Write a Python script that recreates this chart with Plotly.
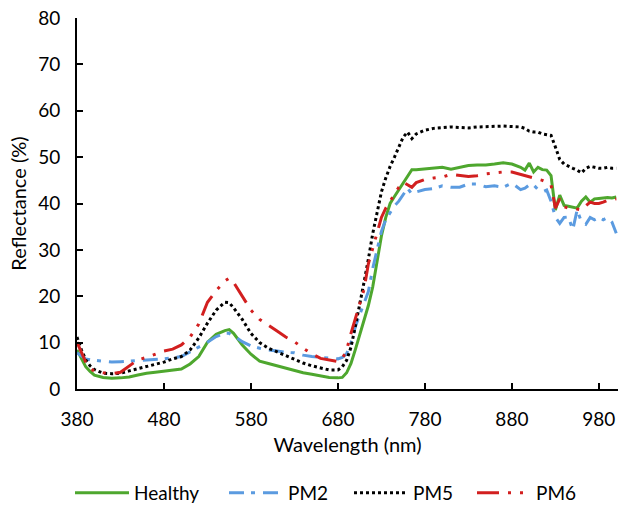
import plotly.graph_objects as go

wavelength = [380, 385, 390, 395, 400, 410, 420, 430, 440, 450, 460, 470, 480, 490, 500,
              510, 520, 530, 540, 550, 555, 560, 570, 580, 590, 600, 610, 620, 630, 640,
              650, 660, 670, 680, 685, 690, 695, 700, 705, 710, 715, 720, 725, 730, 735,
              740, 745, 750, 755, 760, 765, 770, 780, 790, 800, 810, 820, 830, 840, 850,
              860, 870, 880, 890, 895, 900, 905, 910, 915, 920, 925, 930, 935, 940, 945,
              950, 955, 960, 965, 970, 975, 980, 985, 990, 995, 1000]

healthy = [8.4, 6.5, 4.8, 3.8, 3.0, 2.5, 2.3, 2.4, 2.6, 3.0, 3.4, 3.6, 3.8, 4.1, 4.3,
           5.4, 7.0, 10.1, 11.8, 12.6, 12.8, 12.0, 9.5, 7.5, 6.0, 5.5, 5.0, 4.4, 3.9, 3.5,
           3.2, 2.8, 2.5, 2.4, 2.5, 3.5, 5.5, 8.5, 11.5, 14.5, 18, 22, 28, 33, 37,
           40, 41.5, 43, 44.5, 46, 47.3, 47.3, 47.5, 47.7, 47.8, 47.4, 47.8, 48.2, 48.3, 48.3,
           48.5, 48.8, 48.5, 47.8, 47.2, 48.7, 46.8, 47.8, 47.3, 47.2, 46, 38.6, 41.8, 39.6, 39.4,
           39.2, 39.0, 40.5, 41.4, 40.3, 41.0, 41.1, 41.2, 41.3, 41.2, 41.4]

pm2 = [7.8, 7.2, 6.5, 6.3, 6.2, 6.0, 5.8, 5.9, 6.0, 6.1, 6.2, 6.4, 6.5, 6.7, 7.0,
       8.0, 9.0, 10.1, 11.3, 12.0, 12.0, 11.5, 10.2, 9.3, 8.8, 8.4, 8.2, 7.9, 7.8, 7.3,
       7.0, 6.8, 6.6, 6.5, 6.8, 7.6, 10, 13.4, 16, 18.5, 21, 26, 30, 34, 36.5,
       38, 39.5, 40.5, 42, 43.3, 42.0, 42.5, 43.0, 43.2, 43.8, 43.5, 43.5, 44.2, 44.2, 43.6,
       43.8, 43.5, 44.4, 43.0, 43.3, 44.0, 44.0, 43.0, 42.5, 42.9, 40.5, 37.0, 35.7, 37.0, 37.1,
       34.3, 38.6, 36.0, 35.5, 37.0, 36.5, 37.0, 36.5, 37.0, 36.0, 33.6]

pm5 = [11.2, 8.5, 6.3, 5.0, 4.2, 3.4, 3.3, 3.4, 3.9, 4.4, 4.9, 5.4, 5.8, 6.5, 7.0,
       8.4, 11.0, 14.2, 17.0, 18.7, 18.6, 17.5, 15.0, 12.0, 10.0, 8.8, 8.0, 7.2, 6.3, 5.6,
       5.0, 4.6, 4.1, 4.1, 4.8, 6.2, 9, 13.5, 18, 23, 28, 33.5, 38, 42.5, 45.5,
       48, 50, 52, 54.3, 55.4, 54.0, 55.0, 55.8, 56.2, 56.4, 56.5, 56.4, 56.3, 56.5, 56.6,
       56.7, 56.7, 56.6, 56.5, 56.2, 55.6, 55.4, 55.4, 55.0, 54.8, 54.7, 52.2, 49.5, 48.5, 48.0,
       47.6, 47.2, 46.6, 47.6, 48.0, 47.8, 47.6, 47.6, 47.8, 47.6, 47.6]

pm6 = [10.1, 8.0, 5.8, 4.6, 3.8, 3.5, 3.3, 3.6, 5.0, 6.3, 6.8, 7.5, 8.2, 8.6, 9.5,
       11.2, 14.0, 18.7, 21.2, 23.3, 23.9, 23.0, 20.0, 17.0, 15.0, 13.8, 12.5, 11.2, 10.2, 8.8,
       7.6, 6.6, 6.3, 5.9, 6.5, 8.4, 12, 15, 18.5, 21.5, 27, 30.5, 33.5, 37, 39,
       40.5, 42, 43.5, 44.6, 44.0, 43.5, 44.5, 45.2, 45.5, 45.7, 46.3, 46.0, 45.8, 46.0, 46.4,
       46.6, 46.8, 46.8, 46.3, 46.0, 45.8, 45.5, 45.2, 45.0, 44.6, 44.0, 39.0, 41.0, 39.3, 39.0,
       39.0, 38.8, 38.6, 39.5, 40.3, 40.0, 40.0, 40.3, 40.7, 40.8, 41.0]

series_names = ["Healthy", "PM2", "PM5", "PM6"]
x_ticks = [380, 480, 580, 680, 780, 880, 980]
y_ticks = [0, 10, 20, 30, 40, 50, 60, 70, 80]

FONT = "Lato, 'Open Sans', sans-serif"
W, H = 619, 515
ML, MR, MT, MB = 77, 1, 18, 126
PW = W - ML - MR
PH = H - MT - MB

styles = [
    dict(color="#4EA72E", dash="solid"),
    dict(color="#5B9BE0", dash="15px,7px,4px,8px"),
    dict(color="#000000", dash="3px,3px"),
    dict(color="#D21F1F", dash="22px,9px,3px,9px,3px,9px"),
]
legend_ids = ["legend", "legend2", "legend3", "legend4"]
legend_px = [70, 224, 349, 472]   # left pixel of each legend box

fig = go.Figure()
for name, ys, st, lid in zip(series_names, [healthy, pm2, pm5, pm6], styles, legend_ids):
    fig.add_trace(go.Scatter(
        x=wavelength, y=ys, mode="lines", name=name, legend=lid,
        line=dict(color=st["color"], dash=st["dash"], width=3),
    ))

legend_y = (MT + PH - 493) / PH
layout_legends = {}
for lid, px in zip(legend_ids, legend_px):
    layout_legends[lid] = dict(
        orientation="h", x=(px - ML) / PW, xanchor="left", y=legend_y, yanchor="middle",
        font=dict(size=19, family=FONT), itemwidth=54, bgcolor="rgba(0,0,0,0)",
    )

fig.update_layout(
    width=W, height=H,
    margin=dict(l=ML, r=MR, t=MT, b=MB),
    paper_bgcolor="white", plot_bgcolor="white",
    font=dict(family=FONT, size=19, color="#000000"),
    showlegend=True,
    xaxis=dict(
        range=[380, 1002], tickmode="array", tickvals=x_ticks,
        showgrid=False, zeroline=False, showline=True, linecolor="#000000", linewidth=2,
        ticks="inside", ticklen=6, tickwidth=1.5, tickcolor="#000000",
        ticklabelstandoff=12, automargin=False,
        title=dict(text="Wavelength (nm)", font=dict(size=20), standoff=9),
        tickfont=dict(size=19),
    ),
    yaxis=dict(
        range=[0, 80], tickmode="array", tickvals=y_ticks,
        showgrid=False, zeroline=False, showline=True, linecolor="#000000", linewidth=2,
        ticks="inside", ticklen=6, tickwidth=1.5, tickcolor="#000000",
        ticklabelstandoff=11, automargin=False,
        title=dict(text="Reflectance (%)", font=dict(size=20), standoff=6),
        tickfont=dict(size=19),
    ),
    **layout_legends,
)

fig.write_html("out.html", config={"displayModeBar": False},
               post_script="document.body.style.margin='0';")
